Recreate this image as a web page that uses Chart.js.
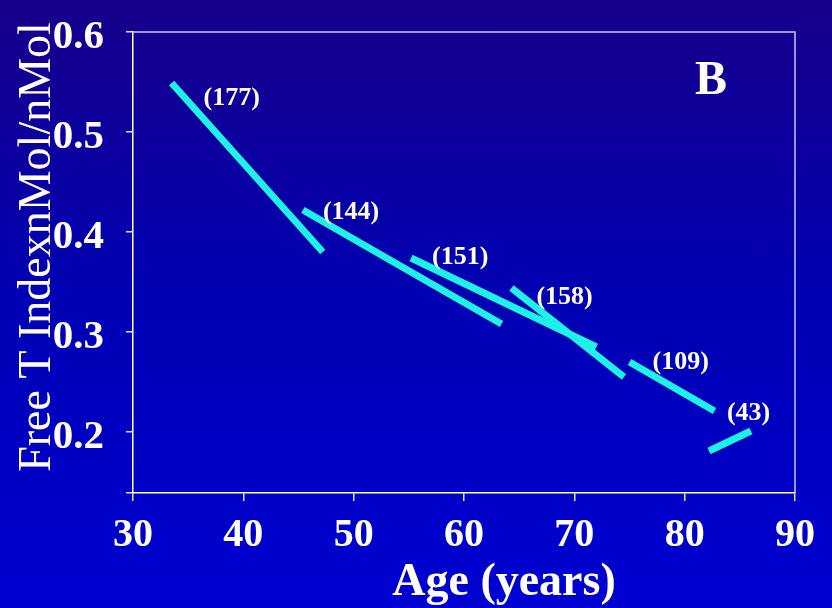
<!DOCTYPE html>
<html>
<head>
<meta charset="utf-8">
<script src="https://cdn.jsdelivr.net/npm/chart.js@4/dist/chart.umd.min.js"></script>
<style>
  html, body { margin: 0; padding: 0; }
  body {
    width: 832px; height: 608px; overflow: hidden;
    background: linear-gradient(to bottom, #17008a 0%, #0000b4 50%, #0000d2 100%);
  }
  #wrap { position: relative; width: 832px; height: 608px; }
</style>
</head>
<body>
<div id="wrap"><canvas id="myChart" width="832" height="608"></canvas></div>
<script>

// one fitted line per age group, n in brackets
var groups = ["(177)", "(144)", "(151)", "(158)", "(109)", "(43)"];
var startAge = [33.5, 45.4, 55.2, 64.3, 75.0, 82.2];
var endAge = [47.2, 63.4, 72.0, 74.5, 82.7, 86.0];
var startFTI = [0.549, 0.422, 0.374, 0.344, 0.270, 0.181];
var endFTI = [0.380, 0.308, 0.285, 0.255, 0.221, 0.201];

var xTicks = [30, 40, 50, 60, 70, 80, 90];
var yTicks = [0.2, 0.3, 0.4, 0.5, 0.6];
var yMin = 0.139;

var panelLetter = "B";
var xTitle = "Age (years)";
var yTitle = "Free T IndexnMol/nMol";

var lineColor = "#1ef2e8";
var serif = "'Liberation Serif', 'Times New Roman', serif";

// pixel nudges for the (n) labels, measured from each line's start
var labelOffsets = [[32, 15], [20, 2], [21, -1], [25, 9], [23, 0], [18, -38]];

var datasets = [];
for (var i = 0; i < groups.length; i++) {
  datasets.push({
    label: groups[i],
    data: [{x: startAge[i], y: startFTI[i]}, {x: endAge[i], y: endFTI[i]}],
    borderColor: lineColor,
    borderWidth: 7,
    borderCapStyle: "butt",
    pointRadius: 0,
    fill: false
  });
}

var extras = {
  id: "extras",
  afterDraw: function(chart) {
    var ctx = chart.ctx;
    var a = chart.chartArea;
    var xs = chart.scales.x, ys = chart.scales.y;
    ctx.save();

    // top and right frame lines
    ctx.strokeStyle = "#c8c8ff";
    ctx.lineWidth = 1.5;
    ctx.beginPath();
    ctx.moveTo(a.left, a.top);
    ctx.lineTo(a.right, a.top);
    ctx.lineTo(a.right, a.bottom);
    ctx.stroke();

    ctx.fillStyle = "#ffffff";

    // group sizes
    ctx.font = "bold 26px " + serif;
    ctx.textAlign = "left";
    ctx.textBaseline = "middle";
    for (var i = 0; i < groups.length; i++) {
      var px = xs.getPixelForValue(startAge[i]) + labelOffsets[i][0];
      var py = ys.getPixelForValue(startFTI[i]) + labelOffsets[i][1];
      ctx.fillText(groups[i], px, py);
    }

    // panel letter
    ctx.font = "bold 48px " + serif;
    ctx.textAlign = "center";
    ctx.fillText(panelLetter, 711, 82);

    // axis titles
    ctx.font = "bold 46px " + serif;
    ctx.textAlign = "center";
    ctx.fillText(xTitle, 504, 583);

    ctx.translate(38, 247);
    ctx.rotate(-Math.PI / 2);
    ctx.font = "46px " + serif;
    ctx.fillText(yTitle, 0, 0);

    ctx.restore();
  }
};

var chart = new Chart("myChart", {
  type: "line",
  data: { datasets: datasets },
  options: {
    responsive: false,
    animation: false,
    layout: { padding: { top: 32, right: 37, left: 0, bottom: 0 } },
    plugins: { legend: { display: false }, tooltip: { enabled: false } },
    scales: {
      x: {
        type: "linear",
        min: 30,
        max: 90,
        afterBuildTicks: function(s) { s.ticks = xTicks.map(function(v) { return {value: v}; }); },
        afterFit: function(s) { s.height = 115; s.paddingLeft = 0; s.paddingRight = 0; },
        grid: { drawOnChartArea: false, drawTicks: true, tickLength: 8, color: "#e0e0ff", lineWidth: 1.5 },
        border: { color: "#ffffff", width: 1.5 },
        ticks: {
          color: "#ffffff",
          padding: 11,
          font: { family: serif, size: 40, weight: "bold" }
        }
      },
      y: {
        type: "linear",
        min: yMin,
        max: 0.6,
        afterBuildTicks: function(s) {
          s.ticks = [yMin].concat(yTicks).map(function(v) { return {value: v}; });
        },
        afterFit: function(s) { s.width = 133; s.paddingTop = 0; s.paddingBottom = 0; },
        grid: { drawOnChartArea: false, drawTicks: true, tickLength: 7, color: "#e0e0ff", lineWidth: 1.5 },
        border: { color: "#ffffff", width: 1.5 },
        ticks: {
          color: "#ffffff",
          padding: 22,
          labelOffset: 5,
          font: { family: serif, size: 41, weight: "bold" },
          callback: function(v) { return v === yMin ? "" : v.toFixed(1); }
        }
      }
    }
  },
  plugins: [extras]
});
</script>
</body>
</html>
